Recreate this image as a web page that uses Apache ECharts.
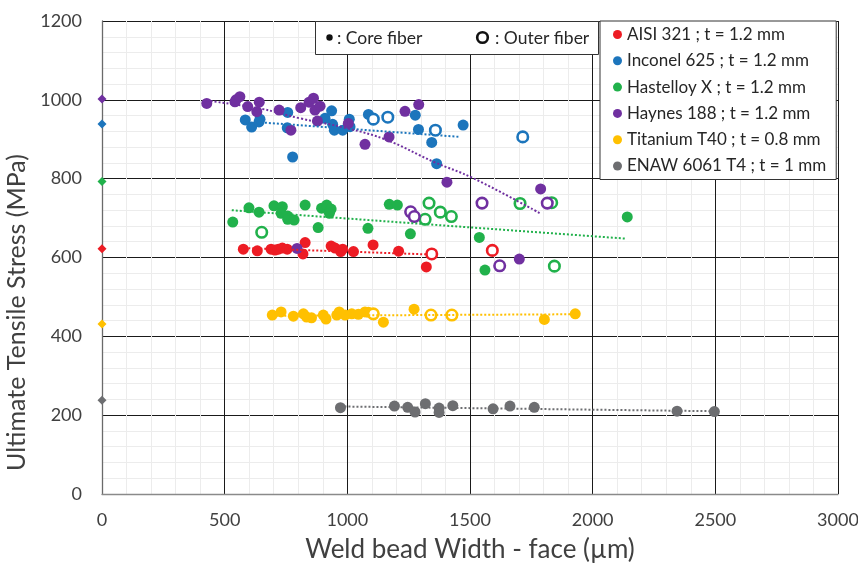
<!DOCTYPE html>
<html>
<head>
<meta charset="utf-8">
<script src="https://cdn.jsdelivr.net/npm/echarts@6/dist/echarts.min.js"></script>
<style>html,body{margin:0;padding:0;background:#fff}#c{width:858px;height:565px}</style>
</head>
<body>
<div id="c"></div>
<script>
// ---- Data (x: weld bead width µm, y: UTS MPa) ----
const names = ['AISI 321 ; t = 1.2 mm','Inconel 625 ; t = 1.2 mm','Hastelloy X ; t = 1.2 mm','Haynes 188 ; t = 1.2 mm','Titanium T40 ; t = 0.8 mm','ENAW 6061 T4 ; t = 1 mm'];
const colors = ['#ED1C24','#1C75BC','#21B14B','#7030A0','#FFC000','#6D6E71'];

const aisiCore = [[576,621],[633,617],[689,621],[705,619],[719,621],[735,624],[755,621],[828,638],[819,609],[934,629],[950,624],[973,615],[981,621],[1025,615],[1105,632],[1209,616],[1322,576]];
const aisiOuter = [[1344,609],[1591,618]];
const aisiBase = [[0,622]];
const aisiTrend = [[580,624],[1323,608]];

const inconelCore = [[757,968],[584,949],[610,931],[640,944],[644,951],[755,929],[777,855],[909,953],[936,972],[940,938],[947,923],[981,923],[1008,951],[1011,932],[1086,963],[1277,961],[1290,925],[1344,892],[1364,838],[1472,936]];
const inconelOuter = [[1106,951],[1165,956],[1359,923],[1715,906]];
const inconelBase = [[0,939]];
const inconelTrend = [[664,942],[1459,906]];

const hastelloyCore = [[533,690],[599,726],[640,715],[701,731],[735,729],[730,712],[757,705],[757,697],[783,695],[828,733],[881,676],[895,725],[916,733],[934,723],[927,712],[1084,674],[1171,735],[1204,733],[1257,660],[1538,651],[2141,703],[1561,568]];
const hastelloyOuter = [[651,664],[1333,738],[1379,715],[1424,704],[1317,697],[1704,737],[1833,739],[1844,578]];
const hastelloyBase = [[0,793]];
const hastelloyTrend = [[529,720],[2133,648]];

const haynesCore = [[427,991],[542,995],[546,1000],[562,1008],[594,983],[631,970],[641,994],[722,974],[770,923],[810,980],[844,994],[862,1004],[868,974],[878,946],[889,984],[1004,940],[1072,887],[1170,906],[1235,971],[1291,988],[1406,791],[1788,774],[1701,596],[795,623]];
const haynesOuter = [[1258,716],[1273,704],[1549,738],[1815,738],[1621,579]];
const haynesBase = [[0,1002]];
const haynesTrend = [[427,998],[644,978],[807,953],[998,928],[1161,898],[1351,843],[1514,801],[1786,712]];

const titaniumCore = [[694,454],[730,462],[780,451],[821,457],[834,449],[854,447],[902,454],[913,444],[957,454],[967,462],[991,454],[1018,457],[1045,456],[1072,462],[1086,461],[1147,436],[1272,469],[1803,443],[1929,457]];
const titaniumOuter = [[1106,457],[1341,454],[1426,454]];
const titaniumBase = [[0,431]];
const titaniumTrend = [[694,452],[1929,456]];

const enawCore = [[972,219],[1192,223],[1246,220],[1276,208],[1318,229],[1374,218],[1374,207],[1430,224],[1594,216],[1663,223],[1762,220],[2344,210],[2496,209]];
const enawOuter = [];
const enawBase = [[0,238]];
const enawTrend = [[972,222],[2496,210]];

const groups = [
  [aisiCore, aisiOuter, aisiBase, aisiTrend],
  [inconelCore, inconelOuter, inconelBase, inconelTrend],
  [hastelloyCore, hastelloyOuter, hastelloyBase, hastelloyTrend],
  [haynesCore, haynesOuter, haynesBase, haynesTrend],
  [titaniumCore, titaniumOuter, titaniumBase, titaniumTrend],
  [enawCore, enawOuter, enawBase, enawTrend]
];

const FONT = 'Lato';
const series = [];
groups.forEach((g, i) => {
  series.push({ name: names[i], type: 'scatter', data: g[0], symbol: 'circle', symbolSize: 11,
    itemStyle: { color: colors[i], opacity: 1 }, z: 3, clip: false });
});
groups.forEach((g, i) => {
  series.push({ name: names[i], type: 'scatter', data: g[1], symbol: 'circle', symbolSize: 10.5,
    itemStyle: { color: '#fff', borderColor: colors[i], borderWidth: 2.6, opacity: 1 }, z: 3, clip: false });
  series.push({ name: names[i], type: 'scatter', data: g[2], symbol: 'diamond', symbolSize: 9,
    itemStyle: { color: colors[i], opacity: 1 }, z: 6, clip: false });
  series.push({ name: names[i], type: 'line', data: g[3], symbol: 'none', smooth: g[3].length > 2 ? 0.4 : false,
    lineStyle: { color: colors[i], width: 2, type: [2, 2] }, z: 4, silent: true });
});

const fmt = v => String(v);
const chart = echarts.init(document.getElementById('c'), null, { renderer: 'canvas' });
chart.setOption({
  animation: false,
  backgroundColor: '#fff',
  textStyle: { fontFamily: FONT },
  grid: { left: 102, right: 20, top: 21, bottom: 71, show: false, containLabel: false, outerBoundsMode: 'none' },
  xAxis: {
    type: 'value', min: 0, max: 3000, interval: 500,
    name: 'Weld bead Width - face (µm)', nameLocation: 'middle', nameGap: 43,
    nameTextStyle: { fontSize: 26, color: '#404040', fontFamily: FONT },
    axisLine: { show: true, onZero: false, lineStyle: { color: '#8a8a8a', width: 1.3 } },
    axisTick: { show: false },
    axisLabel: { fontSize: 18, color: '#404040', margin: 17, fontFamily: FONT, formatter: fmt },
    splitLine: { show: true, lineStyle: { color: '#1a1a1a', width: 1 } },
    minorTick: { show: false, splitNumber: 5 },
    minorSplitLine: { show: true, lineStyle: { color: '#ececec', width: 1 } }
  },
  yAxis: {
    type: 'value', min: 0, max: 1200, interval: 200,
    name: 'Ultimate Tensile Stress (MPa)', nameLocation: 'middle', nameGap: 49,
    nameTextStyle: { fontSize: 25, color: '#404040', fontFamily: FONT, padding: [0, 110, 0, 0] },
    axisLine: { show: true, onZero: false, lineStyle: { color: '#6a6a6a', width: 1.3 } },
    axisTick: { show: false },
    axisLabel: { fontSize: 18, color: '#404040', margin: 20, fontFamily: FONT, formatter: fmt },
    splitLine: { show: true, lineStyle: { color: '#1a1a1a', width: 1 } },
    minorTick: { show: false, splitNumber: 5 },
    minorSplitLine: { show: true, lineStyle: { color: '#ececec', width: 1 } }
  },
  legend: {
    data: names.map((n, i) => ({ name: n, icon: 'circle' })),
    orient: 'vertical', left: 600, top: 21,
    padding: [5, 10, 5, 13],
    itemWidth: 9, itemHeight: 9, itemGap: 9.3,
    textStyle: { fontSize: 17, color: '#262626', fontFamily: FONT, lineHeight: 17 },
    backgroundColor: '#fff', borderColor: '#333', borderWidth: 1, borderRadius: 0,
    selectedMode: false, z: 20
  },
  graphic: [
    { type: 'rect', z: 100, shape: { x: 315.5, y: 21.5, width: 283, height: 33 }, style: { fill: '#fff', stroke: '#333', lineWidth: 1 } },
    { type: 'circle', z: 101, shape: { cx: 329.5, cy: 37.5, r: 3.2 }, style: { fill: '#111' } },
    { type: 'text', z: 101, x: 337, y: 38, style: { text: ': Core fiber', font: '17.5px ' + FONT, fill: '#262626', verticalAlign: 'middle' } },
    { type: 'circle', z: 101, shape: { cx: 482.5, cy: 37.5, r: 5.3 }, style: { fill: '#fff', stroke: '#111', lineWidth: 2.6 } },
    { type: 'text', z: 101, x: 495, y: 38, style: { text: ': Outer fiber', font: '17.5px ' + FONT, fill: '#262626', verticalAlign: 'middle' } }
  ],
  series: series
});
</script>
</body>
</html>
